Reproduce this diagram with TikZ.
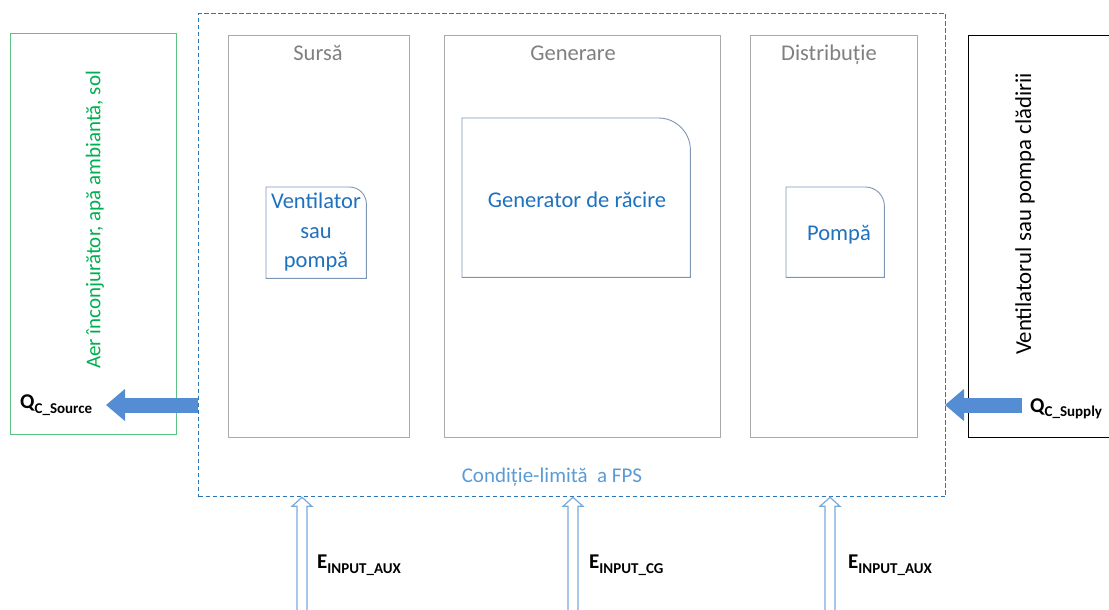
\documentclass[tikz,border=0pt]{standalone}
\usepackage{fontspec}
\setmainfont{Carlito}
\usetikzlibrary{arrows.meta,calc}

\definecolor{frameblue}{RGB}{46,117,182}
\definecolor{textblue}{RGB}{30,113,190}
\definecolor{lightblue}{RGB}{91,155,213}
\definecolor{arrowblue}{RGB}{84,141,212}
\definecolor{hollowblue}{RGB}{120,170,220}
\definecolor{titlegray}{RGB}{128,128,128}
\definecolor{panelgray}{RGB}{170,170,170}
\definecolor{devgray}{RGB}{125,150,180}
\definecolor{envgreen}{RGB}{0,176,80}
\definecolor{greenframe}{RGB}{90,195,130}

% font helpers
\newcommand\mainsize{\fontsize{22.5}{29.5}\selectfont}
\newcommand\sidesize{\fontsize{21}{25}\selectfont}
\newcommand\bldsize{\fontsize{22.8}{26}\selectfont}
\newcommand\flowlabel[2]{{\bfseries\fontsize{21}{21}\selectfont #1\raisebox{-4.5pt}{\fontsize{15}{15}\selectfont #2}}}
% outline of a box whose top-right corner is rounded with radius #2
\newcommand\roundedbox[2]{%
  \draw[device] (#1.south west) -- (#1.north west) -- ([xshift=-#2]#1.north east)
    .. controls ([xshift=-0.448*#2]#1.north east) and ([yshift=-0.448*#2]#1.north east)
    .. ([yshift=-#2]#1.north east) -- (#1.south east) -- cycle;}

\begin{document}
\begin{tikzpicture}[x=1pt,y=-1pt,
  panel/.style={draw=panelgray, line width=0.9pt, inner sep=0pt, anchor=north west},
  paneltitle/.style={text=titlegray, font=\mainsize, anchor=base},
  device/.style={draw=devgray, line width=0.9pt},
  devtext/.style={text=textblue, font=\mainsize, align=center},
  boundary/.style={draw=frameblue, line width=1.3pt, dash pattern=on 4.5pt off 2.5pt, inner sep=0pt, anchor=north west},
  fatarrow/.style={draw=arrowblue, line width=15pt, -{Triangle[width=31pt,length=19pt]}},
  hollow/.style={draw=hollowblue, line width=1.2pt, fill=white},
  ghost/.style={inner sep=0pt, anchor=north west}
]
\useasboundingbox (0,0) rectangle (1109,610);

% environment side (left) and building side (right)
\node[panel, draw=greenframe, minimum width=166pt, minimum height=401pt] (env) at (10,33) {};
\node[rotate=90, text=envgreen, font=\sidesize] (envtext) at (95,220) {Aer înconjurător, apă ambiantă, sol};
\node[panel, draw=black, line width=0.8pt, minimum width=150pt, minimum height=402pt] (bld) at (968,35) {};
\node[rotate=90, text=black, font=\bldsize] (bldtext) at (1025,214) {Ventilatorul sau pompa clădirii};

% system boundary
\node[boundary, minimum width=747pt, minimum height=483pt] (fps) at (198,13) {};
\node[text=lightblue, font=\sidesize] (fpstext) at (552,477) {Condiție-limită\ \ a FPS};

% the three sub-systems
\node[panel, minimum width=181pt, minimum height=402pt] (src) at (228,35) {};
\node[panel, minimum width=276pt, minimum height=402pt] (gen) at (444,35) {};
\node[panel, minimum width=167pt, minimum height=402pt] (dst) at (750,35) {};
\node[paneltitle] (srctitle) at (318,61) {Sursă};
\node[paneltitle] (gentitle) at (573,61) {Generare};
\node[paneltitle] (dsttitle) at (829,61) {Distribuție};

% components with one rounded corner
\node[ghost, minimum width=100pt, minimum height=91pt] (fan) at (266,187) {};
\node[ghost, minimum width=228pt, minimum height=159pt] (chiller) at (462,118) {};
\node[ghost, minimum width=98pt, minimum height=90pt] (pump) at (786,187) {};
\roundedbox{fan}{17pt}
\roundedbox{chiller}{32pt}
\roundedbox{pump}{19pt}
\node[devtext] (fantext) at (316,232) {Ventilator\\sau\\pompă};
\node[devtext] (chillertext) at (577,200) {Generator de răcire};
\node[devtext] (pumptext) at (839,235) {Pompă};

% heat flows
\coordinate (srcout) at (198,405);
\coordinate (srcend) at (106,405);
\coordinate (supin) at (1022,405);
\coordinate (supend) at (945,405);
\draw[fatarrow] (srcout) -- (srcend);
\draw[fatarrow] (supin) -- (supend);
\node[anchor=west, inner sep=0pt] (qsrc) at (20,405) {\flowlabel{Q}{C\_Source}};
\node[anchor=west, inner sep=0pt] (qsup) at (1030,409) {\flowlabel{Q}{C\_Supply}};

% auxiliary and generator energy inputs
\coordinate (auxA) at (302,612);
\coordinate (cg) at (573,612);
\coordinate (auxB) at (830,612);
\foreach \c in {auxA,cg,auxB}{
  \draw[hollow] let \p1=(\c), \p2=(\c |- fps.south) in
    (\x1-5pt,\y1) -- (\x1-5pt,\y2-9pt) -- (\x1-10pt,\y2-9pt) -- (\x1,\y2)
    -- (\x1+10pt,\y2-9pt) -- (\x1+5pt,\y2-9pt) -- (\x1+5pt,\y1);
}
\node[anchor=west, inner sep=0pt] (eauxA) at (317,565) {\flowlabel{E}{INPUT\_AUX}};
\node[anchor=west, inner sep=0pt] (ecg) at (589,565) {\flowlabel{E}{INPUT\_CG}};
\node[anchor=west, inner sep=0pt] (eauxB) at (848,565) {\flowlabel{E}{INPUT\_AUX}};
\end{tikzpicture}
\end{document}
